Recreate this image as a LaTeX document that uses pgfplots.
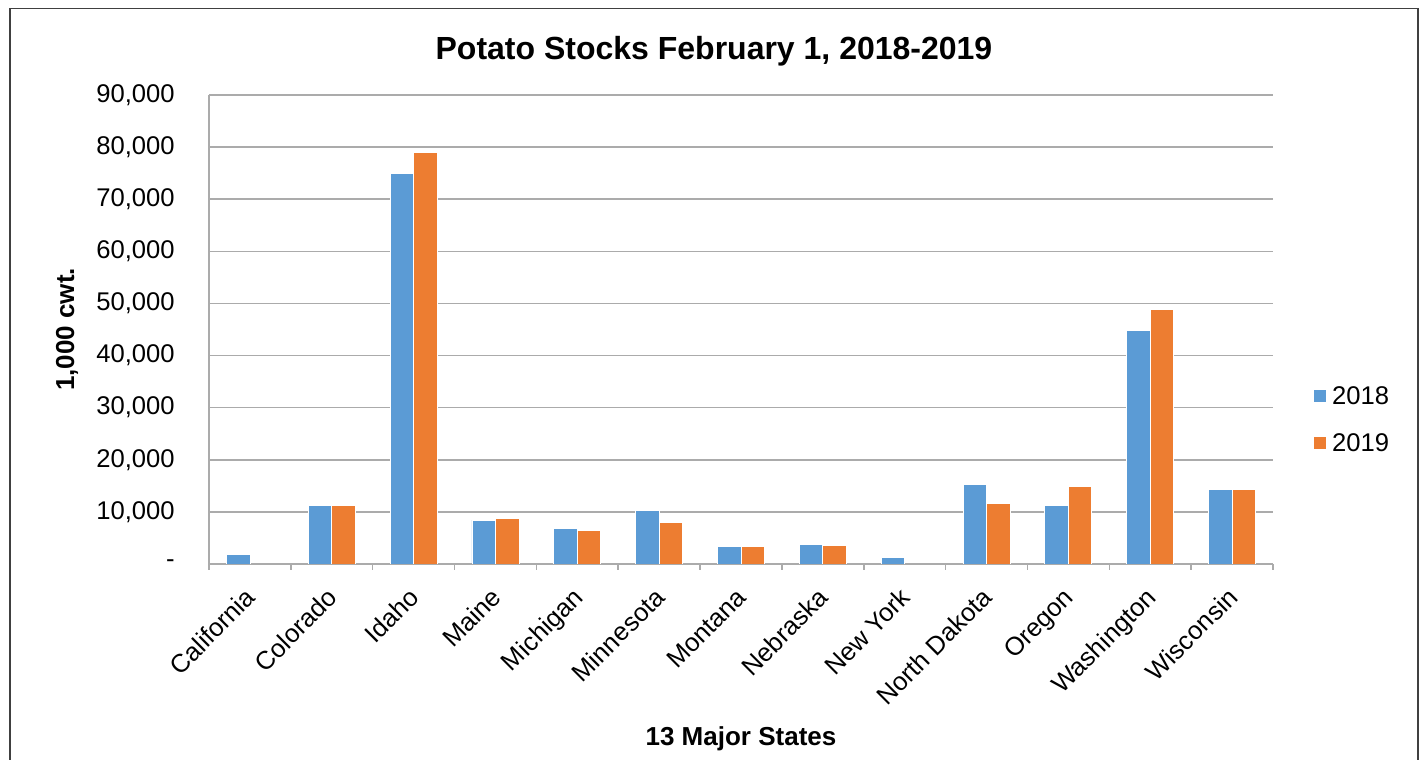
\documentclass[border=0pt]{standalone}
\usepackage{fontspec}
\setmainfont{Liberation Sans}
\usepackage{pgfplots}
\pgfplotsset{compat=1.18}
\definecolor{bar18}{HTML}{5B9BD5}
\definecolor{bar19}{HTML}{ED7D31}
\definecolor{gridgray}{HTML}{ABABAB}
\definecolor{framegray}{HTML}{404040}
\newcommand{\tickfont}{\fontsize{12.8}{15}\selectfont}
\newcommand{\labfont}{\fontsize{13}{15}\selectfont\bfseries}

\begin{document}
\begin{tikzpicture}
\path[use as bounding box] (0,0) rectangle (713pt,380pt);
\draw[framegray, line width=0.9pt] (5pt,-20pt) rectangle (709pt,375.75pt);
\begin{axis}[
  at={(104.5pt,98pt)}, anchor=south west,
  scale only axis, width=532pt, height=234.5pt,
  ybar=0pt, bar width=11.75pt,
  xmin=-0.5, xmax=12.5, ymin=0, ymax=90000,
  axis lines*=left,
  axis line style={-, draw=gridgray, line width=0.75pt},
  ymajorgrids, grid style={draw=gridgray, line width=0.75pt},
  xtick={0,...,12}, minor xtick={-0.5,0.5,...,12.5},
  major tick length=0pt, minor tick length=3pt, tick align=outside,
  minor tick style={draw=gridgray, line width=0.75pt},
  xticklabels={California,Colorado,Idaho,Maine,Michigan,Minnesota,Montana,
    Nebraska,New York,North Dakota,Oregon,Washington,Wisconsin},
  xticklabel style={font=\tickfont, inner sep=0pt, anchor=north east,
    xshift=-3pt, yshift=-11pt, rotate=45},
  ytick={0,10000,20000,30000,40000,50000,60000,70000,80000,90000},
  yticklabels={{-\hspace{7pt}},{10,000},{20,000},{30,000},{40,000},{50,000},
    {60,000},{70,000},{80,000},{90,000}},
  scaled y ticks=false,
  yticklabel style={font=\tickfont, inner sep=0pt, anchor=east, xshift=-17pt},
  every axis title shift=0pt,
  title={Potato Stocks February 1, 2018-2019},
  title style={font=\fontsize{16}{19}\selectfont\bfseries,
    at={(axis description cs:0.4746,1.0761)}, anchor=base},
  xlabel={13 Major States},
  xlabel style={font=\labfont, at={(axis description cs:0.5,-0.386)}, anchor=base},
  ylabel={1,000 cwt.},
  ylabel style={font=\labfont, at={(axis description cs:-0.1335,0.5)}, anchor=center},
  legend style={at={(axis description cs:1.0376,0.303)}, anchor=west,
    draw=none, fill=none, inner sep=0pt, row sep=11.25pt, column sep=2.5pt,
    nodes={inner sep=0pt, text height=9pt, text depth=3pt, font=\tickfont}},
  legend cell align=left,
  legend image code/.code={\fill[#1] (0pt,-2pt) rectangle (6.5pt,4.5pt);},
]
\addplot[fill=bar18, draw=white, line width=0.4pt] coordinates {
  (0,1750) (1,11270) (2,74950) (3,8410) (4,6820) (5,10320) (6,3310)
  (7,3820) (8,1250) (9,15260) (10,11150) (11,44870) (12,14300)};
\addplot[fill=bar19, draw=white, line width=0.4pt] coordinates {
  (1,11150) (2,78950) (3,8790) (4,6430) (5,7960) (6,3440)
  (7,3630) (9,11670) (10,14940) (11,48910) (12,14360)};
\legend{2018,2019}
\end{axis}
\end{tikzpicture}
\end{document}
